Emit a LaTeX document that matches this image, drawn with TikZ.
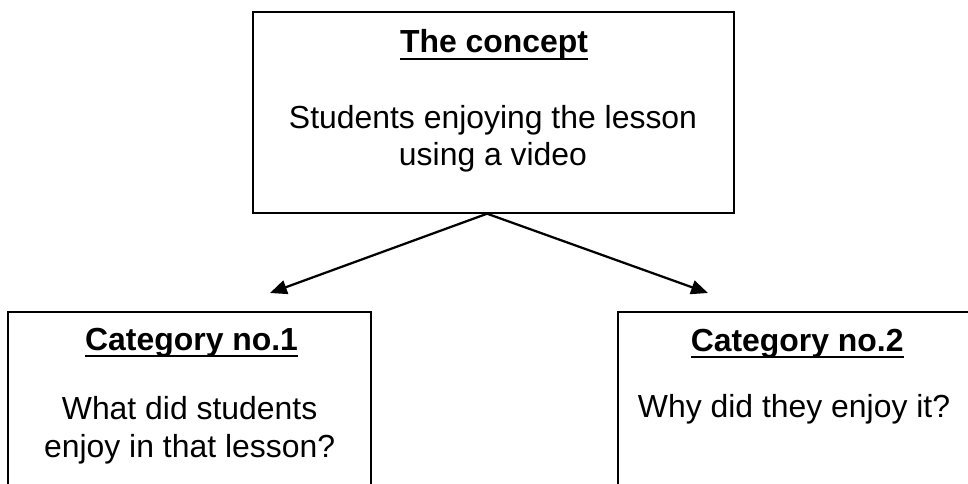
\documentclass[tikz,border=0pt]{standalone}
\usepackage{fontspec}
\setmainfont{Liberation Sans}
\usetikzlibrary{arrows.meta}
\newsavebox{\headbox}
\newcommand{\ulhead}[1]{%
  \sbox{\headbox}{\bfseries #1}%
  \rlap{\rule[-5.2pt]{\wd\headbox}{1.4pt}}\usebox{\headbox}}

\begin{document}
\begin{tikzpicture}[
        font=\fontsize{22.7}{27}\selectfont, % Word-like text size
        % --- Styles ---
        box/.style={draw, line width=1pt, rectangle, inner sep=0pt},
        heading/.style={anchor=base},
        body/.style={anchor=base, align=center}, % base = last line
        link/.style={-{Triangle[length=12pt, width=10pt]}, line width=1.6pt},
    ]
        % --- 1. Visible area (the lower boxes run past the edge) ---
        \useasboundingbox (0,0) rectangle (24.2,-12.1);
        \clip (0,0) rectangle (24.2,-12.1);

        % --- 2. The three boxes ---
        \node[box, minimum width=12.025cm, minimum height=5.025cm] (concept) at (12.3375,-2.8125) {};
        \node[box, minimum width=9.075cm, minimum height=5.2cm] (catone) at (4.7375,-10.4) {};
        \node[box, minimum width=8.95cm, minimum height=5.2cm] (cattwo) at (19.925,-10.4) {};

        % --- 3. Headings and texts inside the boxes ---
        \node[heading] (concepthead) at (12.35,-1.325) {\ulhead{The concept}};
        \node[body] (concepttext) at (12.325,-4.15) {Students enjoying the lesson\\using a video};
        \node[heading] (onehead) at (4.79,-8.75) {\ulhead{Category no.1}};
        \node[body] (onetext) at (4.74,-11.425) {What did students\\enjoy in that lesson?};
        \node[heading] (twohead) at (19.93,-8.775) {\ulhead{Category no.2}};
        \node[body] (twotext) at (19.85,-10.425) {Why did they enjoy it?};

        % --- 4. Arrows from the concept to the categories ---
        \coordinate (onetip) at (6.75,-7.325);
        \coordinate (twotip) at (17.7,-7.325);
        \foreach \tip in {onetip, twotip} {
            \draw[link] ([xshift=-0.16cm]concept.south) -- (\tip);
        }

    \end{tikzpicture}
\end{document}
